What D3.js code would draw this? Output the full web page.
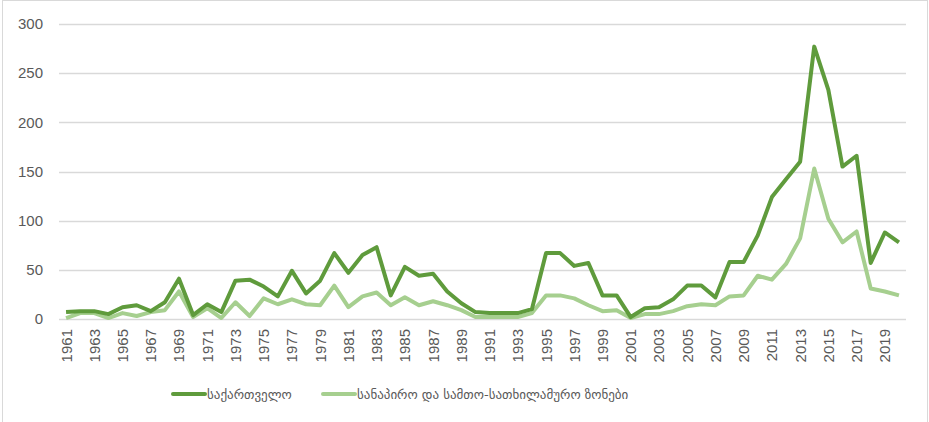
<!DOCTYPE html>
<html>
<head>
<meta charset="utf-8">
<script src="https://cdn.jsdelivr.net/npm/d3@7"></script>
<style>
  body { margin: 0; background: #fff; }
  svg { display: block; }
</style>
</head>
<body>
<div id="container"></div>
<script>
var width = 929;
var height = 422;
var margin = {left: 59, right: 23, top: 24, bottom: 103};

var years = d3.range(1961, 2021);
var georgia = [7, 8, 8, 5, 12, 14, 8, 17, 41, 4, 15, 7, 39, 40, 33, 23, 49, 26, 39, 67,
               47, 65, 73, 24, 53, 44, 46, 28, 16, 7, 6, 6, 6, 10, 67, 67, 54, 57, 24, 24,
               2, 11, 12, 20, 34, 34, 22, 58, 58, 85, 124, 142, 160, 277, 233, 155, 166, 57, 88, 78];
var coastal = [1, 6, 6, 1, 6, 3, 7, 9, 28, 2, 11, 1, 17, 3, 21, 15, 20, 15, 14, 34,
               12, 23, 27, 14, 22, 14, 18, 14, 9, 2, 2, 2, 2, 6, 24, 24, 21, 14, 8, 9,
               1, 5, 5, 8, 13, 15, 14, 23, 24, 44, 40, 56, 82, 153, 102, 78, 89, 31, 28, 24];
var seriesNames = ["საქართველო", "სანაპირო და სამთო-სათხილამურო ზონები"];
var seriesColors = ["#5f9b3c", "#a6cf8f"];
var yTicks = [0, 50, 100, 150, 200, 250, 300];

var svg = d3.select('#container').append('svg').attr('width', width).attr('height', height);

// chart frame
svg.append('rect')
    .attr('x', 2.5).attr('y', 0.5)
    .attr('width', 925).attr('height', 430)
    .attr('fill', 'none').attr('stroke', '#d9d9d9');

var xScale = d3.scalePoint().domain(years).range([margin.left, width - margin.right]).padding(0.5);
var yScale = d3.scaleLinear().domain([0, 300]).range([height - margin.bottom, margin.top]);

// gridlines
svg.append('g').selectAll('line')
    .data(yTicks)
    .enter().append('line')
    .attr('x1', margin.left).attr('x2', width - margin.right)
    .attr('y1', function(d){ return Math.round(yScale(d)) + 0.5; })
    .attr('y2', function(d){ return Math.round(yScale(d)) + 0.5; })
    .attr('stroke', '#d9d9d9').attr('stroke-width', 1.3);

// y labels
svg.append('g').selectAll('text')
    .data(yTicks)
    .enter().append('text')
    .attr('x', margin.left - 16)
    .attr('y', function(d){ return yScale(d); })
    .attr('dy', '0.35em')
    .attr('text-anchor', 'end')
    .attr('font-family', 'Liberation Sans, Arial, sans-serif')
    .attr('font-size', '15px')
    .attr('fill', '#595959')
    .text(function(d){ return d; });

// x labels, every second year
svg.append('g').selectAll('text')
    .data(years.filter(function(d, i){ return i % 2 === 0; }))
    .enter().append('text')
    .attr('transform', function(d){ return 'translate(' + (xScale(d) + 5.5) + ',' + 329 + ') rotate(-90)'; })
    .attr('text-anchor', 'end')
    .attr('font-family', 'Liberation Sans, Arial, sans-serif')
    .attr('font-size', '15px')
    .attr('fill', '#595959')
    .text(function(d){ return d; });

var line = d3.line()
    .x(function(d, i){ return xScale(years[i]); })
    .y(function(d){ return yScale(d); });

[coastal, georgia].forEach(function(values, k){
    svg.append('path')
        .datum(values)
        .attr('d', line)
        .attr('fill', 'none')
        .attr('stroke', seriesColors[1 - k])
        .attr('stroke-width', 4)
        .attr('stroke-linejoin', 'round');
});

// legend
var legendX = [173, 323];
var legend = svg.append('g').selectAll('g')
    .data(seriesNames)
    .enter().append('g')
    .attr('transform', function(d, i){ return 'translate(' + legendX[i] + ',394)'; });

legend.append('line')
    .attr('x1', 0).attr('x2', 32)
    .attr('stroke', function(d, i){ return seriesColors[i]; })
    .attr('stroke-width', 4)
    .attr('stroke-linecap', 'round');

legend.append('text')
    .attr('x', 34)
    .attr('y', 0)
    .attr('dy', '0.35em')
    .attr('font-family', 'DejaVu Sans, Noto Sans, sans-serif')
    .attr('font-size', '13px')
    .attr('fill', '#595959')
    .text(function(d){ return d; });
</script>
</body>
</html>
